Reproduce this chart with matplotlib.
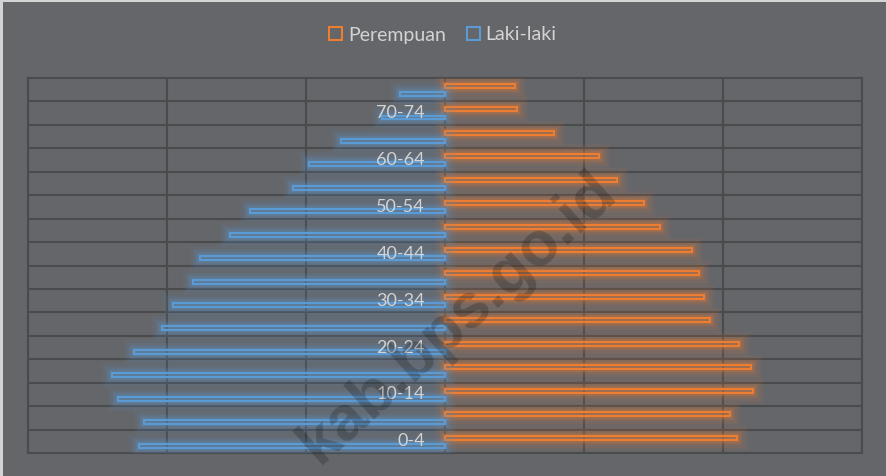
import matplotlib
matplotlib.use("Agg")
import matplotlib.pyplot as plt
import matplotlib.patheffects as pe
from matplotlib.patches import Patch, Rectangle
import numpy as np

# ---- data (percent of population), bottom (0-4) to top (75+) ----
age_groups = ["0-4", "5-9", "10-14", "15-19", "20-24", "25-29", "30-34", "35-39",
              "40-44", "45-49", "50-54", "55-59", "60-64", "65-69", "70-74", "75+"]
perempuan = [4.20, 4.10, 4.43, 4.40, 4.23, 3.81, 3.72, 3.66,
             3.56, 3.10, 2.87, 2.47, 2.22, 1.57, 1.04, 1.00]
laki_laki = [4.41, 4.33, 4.70, 4.79, 4.47, 4.07, 3.92, 3.63,
             3.53, 3.09, 2.80, 2.19, 1.95, 1.49, 0.91, 0.65]
series_names = ["Perempuan", "Laki-laki"]
x_ticks = [-6, -4, -2, 0, 2, 4, 6]

ORANGE = "#ED7D31"
BLUE = "#5B9BD5"
BG = "#65666a"
GRID = "#4a4b4d"
TXT = "#d3d3d3"

plt.rcParams['font.family'] = ['Lato', 'DejaVu Sans']

fig = plt.figure(figsize=(8.86, 4.76), dpi=100, facecolor=BG)
ax = fig.add_axes([28/886, 1-453/476, (862-28)/886, (453-78)/476])
ax.set_facecolor(BG)

y = np.arange(len(age_groups))

def glow(color):
    return [pe.Stroke(linewidth=15, foreground=color, alpha=0.06),
            pe.Stroke(linewidth=11, foreground=color, alpha=0.09),
            pe.Stroke(linewidth=7, foreground=color, alpha=0.14),
            pe.Stroke(linewidth=4, foreground=color, alpha=0.22),
            pe.Normal()]

b1 = ax.barh(y + 0.16, perempuan, height=0.17, fill=False, edgecolor=ORANGE,
             linewidth=1.5, zorder=3)
b2 = ax.barh(y - 0.185, [-v for v in laki_laki], height=0.17, fill=False,
             edgecolor=BLUE, linewidth=1.5, zorder=3)
for r in b1:
    r.set_path_effects(glow(ORANGE))
for r in b2:
    r.set_path_effects(glow(BLUE))

ax.set_xlim(x_ticks[0], x_ticks[-1])
ax.set_ylim(-0.5, len(age_groups) - 0.5)
ax.set_xticks(x_ticks)
ax.set_yticks(y[:-1] + 0.5)
ax.set_axisbelow(True)
ax.grid(True, color=GRID, linewidth=1.5)
ax.tick_params(length=0, labelbottom=False, labelleft=False)
for s in ax.spines.values():
    s.set_color(GRID)
    s.set_linewidth(1.5)

# category labels (every other), right-aligned just left of zero
for i, lab in enumerate(age_groups):
    if i % 2 == 0:
        ax.annotate(lab, xy=(0, y[i]), xytext=(-20, 0), textcoords='offset pixels',
                    ha='right', va='center', fontsize=13, color=TXT, zorder=6)

# legend
handles = [Patch(facecolor='none', edgecolor=ORANGE, linewidth=1.5),
           Patch(facecolor='none', edgecolor=BLUE, linewidth=1.5)]
fig.legend(handles, series_names, loc='center', bbox_to_anchor=(0.5, 1 - 35/476),
           ncol=2, frameon=False, fontsize=14, labelcolor=TXT,
           handlelength=0.65, handleheight=0.65, handletextpad=0.3, columnspacing=1.1)

# watermark
fig.text(458/886, 1 - 318/476, "kab.bps.go.id", rotation=42, ha='center', va='center',
         fontsize=45, fontweight='bold', color='black', alpha=0.2,
         family='Liberation Sans', zorder=10)

# light page edge at left/top
fig.patches.append(Rectangle((0, 0), 3/886, 1, transform=fig.transFigure,
                             facecolor='#d4d4d4', edgecolor='none'))
fig.patches.append(Rectangle((0, 1 - 2/476), 1, 2/476, transform=fig.transFigure,
                             facecolor='#d4d4d4', edgecolor='none'))

fig.savefig("out.png", dpi=100, facecolor=BG)
